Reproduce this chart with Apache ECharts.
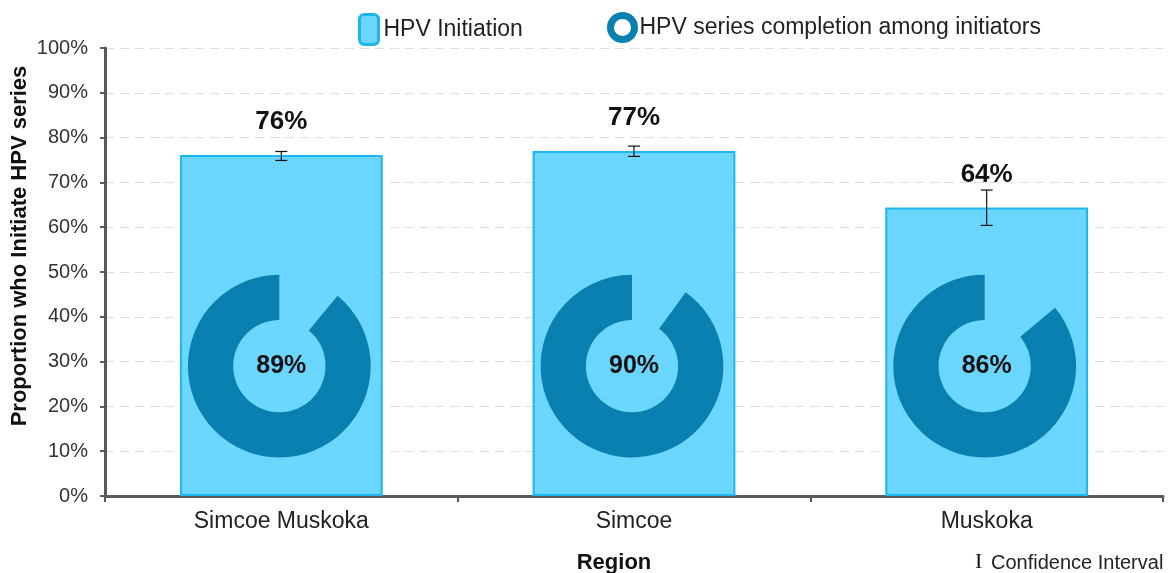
<!DOCTYPE html>
<html>
<head>
<meta charset="utf-8">
<script src="https://cdn.jsdelivr.net/npm/echarts@6/dist/echarts.min.js"></script>
<style>
html,body{margin:0;padding:0;background:#fff;}
#chart{width:1169px;height:573px;}
</style>
</head>
<body>
<div id="chart"></div>
<script>
const categories = ['Simcoe Muskoka', 'Simcoe', 'Muskoka'];
const initiation = [76.1, 77.0, 64.4];
const ciLow = [74.9, 75.8, 60.4];
const ciHigh = [76.9, 78.1, 68.3];
const completion = [89, 90, 86];

const FONT = '"Liberation Sans", Arial, sans-serif';
const BAR_FILL = '#6bd6ff';
const BAR_BORDER = '#1db6ee';
const DONUT = '#0a80b0';

const chart = echarts.init(document.getElementById('chart'), null, {renderer: 'canvas'});

const option = {
  backgroundColor: '#ffffff',
  animation: false,
  textStyle: {fontFamily: FONT},
  grid: {left: 105, right: 6, top: 48, bottom: 77, containLabel: false},
  legend: [
    {
      left: 353, top: 8,
      itemWidth: 19, itemHeight: 30,
      icon: 'roundRect',
      textStyle: {fontSize: 23, color: '#222', fontFamily: FONT},
      data: [{name: 'HPV Initiation', itemStyle: {color: BAR_FILL, borderColor: BAR_BORDER, borderWidth: 3}}]
    },
    {
      left: 602, top: 7,
      itemWidth: 24, itemHeight: 24,
      icon: 'circle',
      textStyle: {fontSize: 23, color: '#222', fontFamily: FONT},
      data: [{name: 'HPV series completion among initiators', itemStyle: {color: '#ffffff', borderColor: DONUT, borderWidth: 7}}]
    }
  ],
  xAxis: {
    type: 'category',
    data: categories,
    axisLine: {lineStyle: {color: '#5a5a5a', width: 3}},
    axisTick: {show: true, length: 6, lineStyle: {color: '#5a5a5a', width: 2}},
    axisLabel: {fontSize: 23, color: '#222', margin: 14, fontFamily: FONT},
    splitLine: {show: false}
  },
  yAxis: {
    type: 'value',
    min: 0, max: 100, interval: 10,
    axisLine: {show: true, lineStyle: {color: '#5a5a5a', width: 3}},
    axisTick: {show: true, length: 5, lineStyle: {color: '#5a5a5a', width: 2}},
    axisLabel: {formatter: '{value}%', fontSize: 20, color: '#333', margin: 17, fontFamily: FONT},
    splitLine: {show: true, lineStyle: {color: '#e3ddd6', width: 1, type: [9, 6]}}
  },
  graphic: [
    {type: 'text', x: 20, y: 246, rotation: Math.PI / 2,
     style: {text: 'Proportion who Initiate HPV series', font: 'bold 22px ' + FONT, fill: '#111', align: 'center', verticalAlign: 'middle'}},
    {type: 'text', x: 614, y: 563,
     style: {text: 'Region', font: 'bold 22px ' + FONT, fill: '#111', align: 'center', verticalAlign: 'middle'}},
    {type: 'text', x: 975, y: 562,
     style: {text: 'I', font: '22px "Liberation Serif", "DejaVu Serif", serif', fill: '#111', align: 'left', verticalAlign: 'middle'}},
    {type: 'text', x: 991, y: 563,
     style: {text: 'Confidence Interval', font: '20px ' + FONT, fill: '#222', align: 'left', verticalAlign: 'middle'}}
  ],
  series: [
    {
      name: 'HPV Initiation',
      type: 'bar',
      data: initiation,
      barWidth: '57.5%',
      itemStyle: {color: BAR_FILL, borderColor: BAR_BORDER, borderWidth: 2},
      label: {show: true, position: 'top', distance: 20,
              formatter: p => Math.round(p.value) + '%',
              fontSize: 26, fontWeight: 'bold', color: '#111', fontFamily: FONT},
      z: 2
    },
    {
      name: 'HPV series completion among initiators',
      type: 'custom',
      data: completion.map((v, i) => [i, v]),
      itemStyle: {color: DONUT},
      z: 3,
      renderItem: function (params, api) {
        const idx = api.value(0);
        const pct = api.value(1);
        const c = api.coord([idx, 29]);
        const r = api.size([0, 20.4])[1];
        const r0 = api.size([0, 10.3])[1];
        const start = -Math.PI / 2 + (1 - pct / 100) * 2 * Math.PI;
        const end = Math.PI * 1.5;
        return {
          type: 'group',
          children: [
            {type: 'sector', shape: {cx: c[0] - 2, cy: c[1], r: r, r0: r0, startAngle: start, endAngle: end, clockwise: true},
             style: {fill: DONUT}},
            {type: 'text', x: c[0], y: c[1],
             style: {text: pct + '%', font: 'bold 25px ' + FONT, fill: '#111', align: 'center', verticalAlign: 'middle'}}
          ]
        };
      }
    },
    {
      name: 'CI',
      type: 'custom',
      data: ciLow.map((v, i) => [i, v, ciHigh[i]]),
      z: 4,
      renderItem: function (params, api) {
        const lo = api.coord([api.value(0), api.value(1)]);
        const hi = api.coord([api.value(0), api.value(2)]);
        const w = 6;
        const st = {stroke: '#111', lineWidth: 1.2};
        return {
          type: 'group',
          children: [
            {type: 'line', shape: {x1: hi[0], y1: hi[1], x2: lo[0], y2: lo[1]}, style: st},
            {type: 'line', shape: {x1: hi[0] - w, y1: hi[1], x2: hi[0] + w, y2: hi[1]}, style: st},
            {type: 'line', shape: {x1: lo[0] - w, y1: lo[1], x2: lo[0] + w, y2: lo[1]}, style: st}
          ]
        };
      }
    }
  ]
};
chart.setOption(option);
</script>
</body>
</html>
